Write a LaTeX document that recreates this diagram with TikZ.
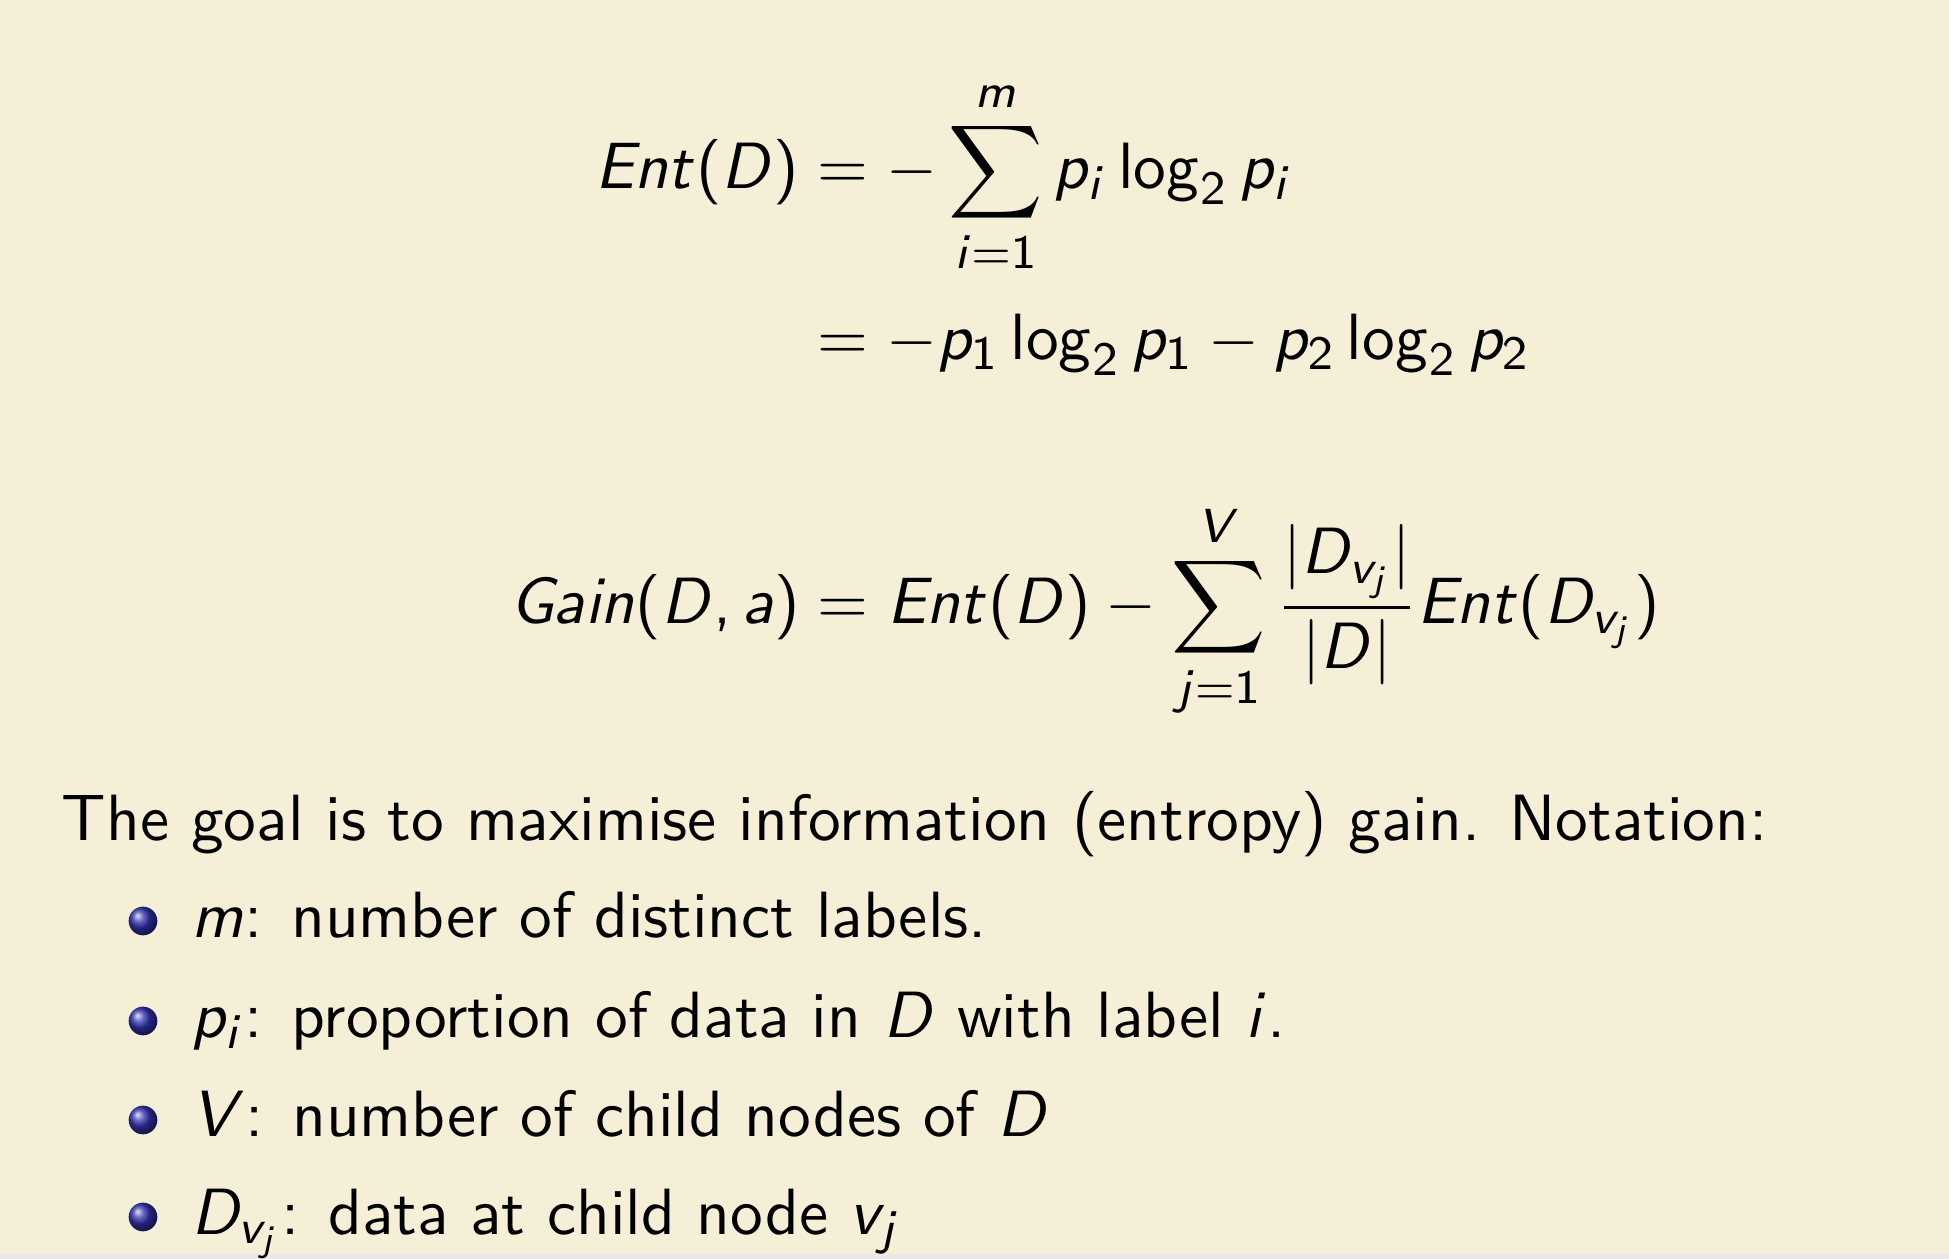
\documentclass[tikz,border=0pt]{standalone}
\usepackage{amsmath}
\renewcommand\familydefault{\sfdefault}
\DeclareSymbolFont{operators}{OT1}{cmss}{m}{n}
\DeclareSymbolFont{letters}{OT1}{cmss}{m}{sl}
\mathcode`\,="602C
\definecolor{slidebg}{RGB}{245,239,216}
\definecolor{stripgray}{RGB}{232,232,232}
\definecolor{structblue}{rgb}{0.2,0.2,0.7}
\tikzset{
  txt/.style={anchor=base west, inner sep=0pt, outer sep=0pt, font=\fontsize{10.95}{13.6}\selectfont},
  bulletball/.style={ball color=structblue},
}
\begin{document}
\begin{tikzpicture}[x=0.1674pt, y=-0.1674pt]
  \path[fill=slidebg] (0,0) rectangle (1949,1259);
  \useasboundingbox (0,0) rectangle (1949,1259);
  \fill[stripgray] (0,1254) rectangle (1949,1259);
  % entropy
  \node[txt] (ent1) at (595,189) {$\displaystyle Ent(D) = -\sum_{i=1}^{m} p_i \log_2 p_i$};
  \node[txt] (ent2) at (595,360) {$\displaystyle \hphantom{Ent(D)} = -p_1 \log_2 p_1 - p_2 \log_2 p_2$};
  % gain
  \node[txt] (gain) at (510,624) {$\displaystyle Gain(D,a) = Ent(D) - \sum_{j=1}^{V} \frac{|D_{v_j}|}{|D|} Ent(D_{v_j})$};
  % text
  \node[txt] (goal) at (62,841) {The goal is to maximise information (entropy) gain. Notation:};
  \node[txt] (b1) at (191,938) {$m$: number of distinct labels.};
  \node[txt] (b2) at (191,1038) {$p_i$: proportion of data in $D$ with label $i$.};
  \node[txt] (b3) at (191,1137) {$V$: number of child nodes of $D$};
  \node[txt] (b4) at (191,1234) {$D_{v_j}$: data at child node $v_j$};
  \foreach \yy in {938,1038,1137,1234}
    \shade[bulletball] (143,\yy-17) circle[radius=2.4pt];
\end{tikzpicture}
\end{document}
